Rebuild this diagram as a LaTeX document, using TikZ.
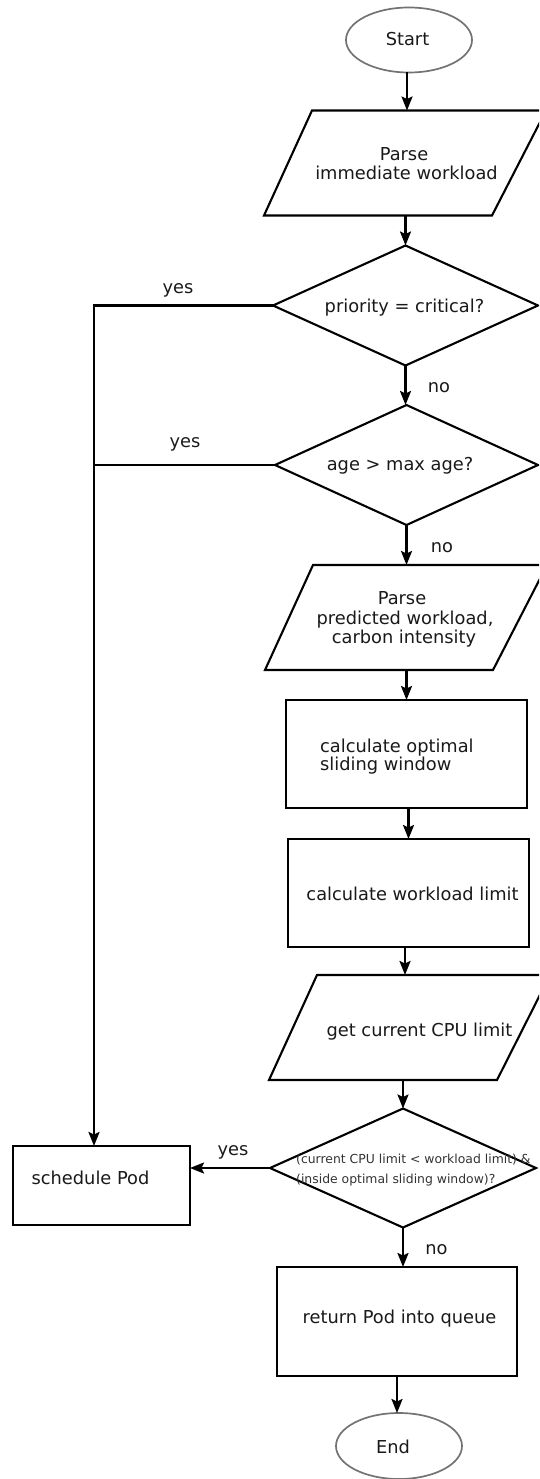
\documentclass[tikz,border=0pt]{standalone}
\usepackage{fontspec}
\setmainfont{DejaVu Sans}
\usetikzlibrary{shapes.geometric,arrows.meta}

% outline of a slanted input/output box drawn over an invisible frame node
\newcommand\paraoutline[3]{%
  \draw[line] (#1.south west) -- ([xshift=#2]#1.north west) -- (#1.north east)
    -- ([xshift=-#3]#1.south east) -- cycle;}

\tikzset{
  line/.style={line width=2.1pt, draw=black, line join=miter},
  arr/.style={line, -{Stealth[length=14pt,width=11pt,inset=2.5pt]}},
  box/.style={rectangle, draw, line width=2.1pt, inner sep=0pt, outer sep=0pt},
  dec/.style={diamond, draw, line width=2.1pt, inner sep=0pt, outer sep=0pt},
  term/.style={ellipse, draw=black!55, line width=1.7pt, inner sep=0pt, outer sep=0pt},
  frame/.style={rectangle, draw=none, inner sep=0pt, outer sep=0pt},
  txt/.style={font=\fontsize{17.8}{20}\selectfont, text=black!90, inner sep=0pt, anchor=base},
  small/.style={font=\fontsize{12.4}{14}\selectfont, text=black!80, inner sep=0pt, anchor=base west},
}

\begin{document}
\begin{tikzpicture}[x=1pt,y=-1pt]
\useasboundingbox (0,0) rectangle (539,1479);
\clip (0,0) rectangle (539,1479);

% shapes
\node[term, minimum width=126pt, minimum height=65pt] (start) at (409,40) {};
\node[frame, minimum width=282pt, minimum height=105pt] (p1) at (405,163) {};
\node[dec, minimum width=265pt, minimum height=120pt] (d1) at (405.5,305.5) {};
\node[dec, minimum width=263pt, minimum height=120pt] (d2) at (406.5,465) {};
\node[frame, minimum width=282pt, minimum height=105pt] (p2) at (406,617.5) {};
\node[box, minimum width=241pt, minimum height=108pt] (b2) at (406.5,754) {};
\node[box, minimum width=241pt, minimum height=108pt] (b3) at (408.5,893) {};
\node[frame, minimum width=281pt, minimum height=105pt] (p3) at (409.5,1027.5) {};
\node[dec, minimum width=266pt, minimum height=119pt] (d3) at (403,1168) {};
\node[box, minimum width=177pt, minimum height=79pt] (sched) at (101.5,1185.5) {};
\node[box, minimum width=240pt, minimum height=109pt] (ret) at (397,1321.5) {};
\node[term, minimum width=126pt, minimum height=66pt] (end) at (399,1446) {};

\paraoutline{p1}{48pt}{54pt}
\paraoutline{p2}{48pt}{54pt}
\paraoutline{p3}{48pt}{53pt}

% texts
\node[txt] (t-start) at (407.5,46) {Start};
\node[txt] (t-p1a) at (404,161) {Parse};
\node[txt] (t-p1b) at (406.5,180) {immediate workload};
\node[txt] (t-d1) at (404.5,312) {priority = critical?};
\node[txt] (t-d2) at (400,470) {age > max age?};
\node[txt] (t-p2a) at (402,604) {Parse};
\node[txt] (t-p2b) at (405,624) {predicted workload,};
\node[txt] (t-p2c) at (404,643) {carbon intensity};
\node[txt, anchor=base west] (t-b2a) at (320,752) {calculate optimal};
\node[txt, anchor=base west] (t-b2b) at (320,770) {sliding window};
\node[txt] (t-b3) at (412.5,900) {calculate workload limit};
\node[txt] (t-p3) at (419.5,1036) {get current CPU limit};
\node[small] (t-d3a) at (296,1163) {(current CPU limit < workload limit) \&};
\node[small] (t-d3b) at (296,1183) {(inside optimal sliding window)?};
\node[txt] (t-sched) at (90.5,1184) {schedule Pod};
\node[txt] (t-ret) at (399.5,1323) {return Pod into queue};
\node[txt] (t-end) at (393,1453) {End};

% branch labels
\node[txt] (l-yes1) at (178,293) {yes};
\node[txt] (l-yes2) at (185,447) {yes};
\node[txt] (l-no1) at (439,392) {no};
\node[txt] (l-no2) at (442,552) {no};
\node[txt] (l-yes3) at (233,1155) {yes};
\node[txt] (l-no3) at (436.5,1254) {no};

% main flow
\draw[arr] ([xshift=-2pt]start.south) -- ([xshift=-2pt]start.south |- p1.north);
\draw[arr] (p1.south -| d1.north) -- (d1.north);
\draw[arr] (d1.south) -- (d1.south |- d2.north);
\draw[arr] (d2.south) -- (d2.south |- p2.north);
\draw[arr] (p2.south -| b2.north) -- (b2.north);
\draw[arr] (b2.south -| b3.north) -- (b3.north);
\draw[arr] ([xshift=-3.5pt]b3.south) -- ([xshift=-3.5pt]b3.south |- p3.north);
\draw[arr] (p3.south -| d3.north) -- (d3.north);
\draw[arr] (d3.south) -- (d3.south |- ret.north);
\draw[arr] (ret.south) -- (ret.south |- end.north);

% "yes" branches to scheduling
\coordinate (bus) at (94,305.5);
\draw[arr] (d1.west) -- (bus) -- (bus |- sched.north);
\draw[line] (d2.west) -- (d2.west -| bus);
\draw[arr] (d3.west) -- (d3.west -| sched.east);
\end{tikzpicture}
\end{document}
